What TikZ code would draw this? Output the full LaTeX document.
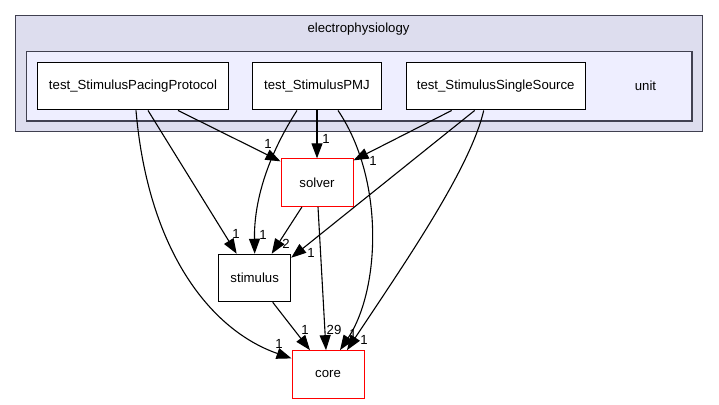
\documentclass[tikz,border=0pt]{standalone}
\usepackage{fontspec}
\setmainfont{Liberation Sans}
\usetikzlibrary{arrows.meta}
\definecolor{outerfill}{HTML}{DDDDEE}
\definecolor{innerfill}{HTML}{EEEEFF}
\definecolor{clusterline}{HTML}{404050}
\tikzset{
  dirbox/.style={draw=black, fill=white, line width=1pt, minimum height=47.5pt, inner sep=0pt},
  redbox/.style={dirbox, draw=red, minimum width=72pt},
  lbl/.style={inner sep=0pt, font=\fontsize{13.2}{15}\selectfont},
  dep/.style={-{Triangle[length=15pt,width=11pt]}, line width=1.1pt}
}
\begin{document}
\begin{tikzpicture}[x=1pt, y=-1pt, font=\fontsize{13.2}{15}\selectfont]
    \useasboundingbox (0,0) rectangle (719,404);
    % clusters
    \draw[fill=outerfill, draw=clusterline, line width=1.3pt] (15.7,15.5) rectangle (702.7,131.7);
    \node[lbl] (ephys) at (358.5,29) {electrophysiology};
    \draw[fill=innerfill, draw=clusterline, line width=1.3pt] (26.3,51.7) rectangle (692,121);
    \node[lbl] (unit) at (645.5,86) {unit};
    % directories
    \node[dirbox, minimum width=191.4pt] (pacing) at (133,86.2) {test\_StimulusPacingProtocol};
    \node[dirbox, minimum width=129.4pt] (pmj) at (317,86.2) {test\_StimulusPMJ};
    \node[dirbox, minimum width=179.3pt] (single) at (495.7,86.2) {test\_StimulusSingleSource};
    \node[redbox] (solver) at (317,182.6) {solver};
    \node[dirbox, minimum width=72pt] (stimulus) at (254.7,278) {stimulus};
    \node[redbox] (core) at (328,374.4) {core};
    % dependencies
    \draw[dep] ([xshift=3pt]pacing.south) .. controls (148,250) and (210,330) .. ([yshift=16pt]core.west);
    \draw[dep] ([xshift=15pt]pacing.south) -- ([xshift=-18pt]stimulus.north);
    \draw[dep] ([xshift=45pt]pacing.south) -- ([yshift=-3pt]solver.north west);
    \draw[dep] (pmj.south) -- (solver.north);
    \draw[dep] ([xshift=-20pt]pmj.south) .. controls (262,165) and (254,210) .. (stimulus.north);
    \draw[dep] ([xshift=21pt]pmj.south) .. controls (385,180) and (380,290) .. ([xshift=12pt]core.north);
    \draw[dep] ([xshift=-44pt]single.south) -- ([yshift=-2pt]solver.north east);
    \draw[dep] ([xshift=-21pt]single.south) -- ([yshift=-4pt]stimulus.north east);
    \draw[dep] ([xshift=-12pt]single.south) .. controls (470,170) and (400,270) .. ([xshift=19pt]core.north);
    \draw[dep] ([xshift=-15pt]solver.south) -- ([xshift=17pt]stimulus.north);
    \draw[dep] ([xshift=1pt]solver.south) -- ([xshift=-2pt]core.north);
    \draw[dep] ([xshift=18pt]stimulus.south) -- ([xshift=-18pt]core.north);
    % counts
    \node[lbl] (n1) at (279,344) {1};
    \node[lbl] (n2) at (236,234) {1};
    \node[lbl] (n3) at (268,144) {1};
    \node[lbl] (n4) at (326,139) {1};
    \node[lbl] (n5) at (263,235) {1};
    \node[lbl] (n6) at (353,334) {1};
    \node[lbl] (n7) at (373,161) {1};
    \node[lbl] (n8) at (311,253) {1};
    \node[lbl] (n9) at (364,340) {1};
    \node[lbl] (n10) at (286,244) {2};
    \node[lbl] (n11) at (334,330) {29};
    \node[lbl] (n12) at (305,330) {1};
  \end{tikzpicture}
\end{document}
